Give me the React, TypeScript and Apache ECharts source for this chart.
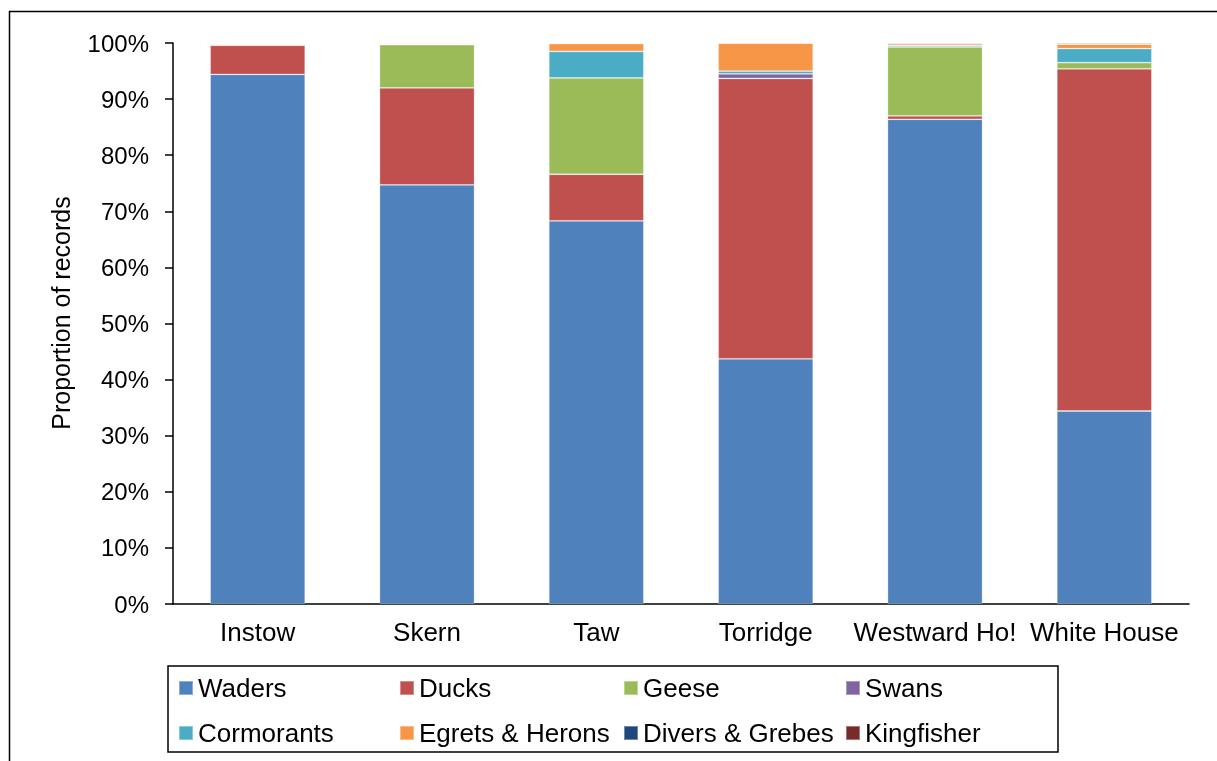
import React, { useEffect, useRef } from "react";
import * as echarts from "echarts";

const categories = ["Instow", "Skern", "Taw", "Torridge", "Westward Ho!", "White House"];
const seriesNames = ["Waders", "Ducks", "Geese", "Swans", "Cormorants", "Egrets & Herons", "Divers & Grebes", "Kingfisher"];
const waders = [94.4, 74.7, 68.3, 43.7, 86.4, 34.4];
const ducks = [5.2, 17.3, 8.3, 50.0, 0.6, 61.0];
const geese = [0.2, 7.7, 17.2, 0, 12.3, 1.1];
const swans = [0, 0, 0, 0.8, 0, 0];
const cormorants = [0.1, 0.1, 4.7, 0.5, 0.3, 2.5];
const egrets = [0.1, 0.2, 1.4, 5.0, 0.4, 0.8];
const divers = [0, 0, 0.1, 0, 0, 0];
const kingfisher = [0, 0, 0, 0, 0, 0.2];
const yTicks = [0, 10, 20, 30, 40, 50, 60, 70, 80, 90, 100];

const seriesData = [waders, ducks, geese, swans, cormorants, egrets, divers, kingfisher];
const colors = ["#4F81BD", "#C0504D", "#9BBB59", "#8064A2", "#4BACC6", "#F79646", "#1F497D", "#772C2A"];

const FONT = "Liberation Sans, Arial, sans-serif";

export default function App() {
  const ref = useRef<HTMLDivElement>(null);
  useEffect(() => {
    document.body.style.margin = "0";
    const chart = echarts.init(ref.current!, null, { renderer: "svg" });
    const legendX = [178, 399, 623, 845];
    const legendY = [675, 720];
    const legends = seriesNames.map((name, i) => ({
      data: [name],
      left: legendX[i % 4],
      top: legendY[Math.floor(i / 4)],
      padding: 0,
      itemWidth: 14,
      itemHeight: 14,
      icon: "rect",
      selectedMode: false,
      textStyle: { fontFamily: FONT, fontSize: 26, color: "#000" },
    }));
    chart.setOption({
      animation: false,
      color: colors,
      grid: { left: 173, right: 28, top: 43, bottom: 157 },
      legend: legends,
      xAxis: {
        type: "category",
        data: categories,
        axisLine: { lineStyle: { color: "#000", width: 1.5 } },
        axisTick: { length: 8, lineStyle: { color: "#000", width: 1.5 } },
        axisLabel: { fontFamily: FONT, fontSize: 26, color: "#000", margin: 15, interval: 0 },
      },
      yAxis: {
        type: "value",
        min: 0,
        max: 100,
        interval: 10,
        axisLine: { show: true, lineStyle: { color: "#000", width: 1.5 } },
        axisTick: { show: true, length: 8, lineStyle: { color: "#000", width: 1.5 } },
        splitLine: { show: false },
        axisLabel: {
          fontFamily: FONT,
          fontSize: 24,
          color: "#000",
          margin: 24,
          formatter: (v: number) => (yTicks.includes(v) ? v + "%" : ""),
        },
      },
      series: seriesNames.map((name, i) => ({
        name,
        type: "bar",
        stack: "total",
        barWidth: 95,
        data: seriesData[i],
        itemStyle: { color: colors[i], borderColor: "rgba(255,255,255,0.35)", borderWidth: 0.8 },
      })),
      graphic: [
        {
          type: "text",
          x: 61,
          y: 313,
          rotation: Math.PI / 2,
          style: {
            text: "Proportion of records",
            fontFamily: FONT,
            fontSize: 25,
            fill: "#000",
            align: "center",
            verticalAlign: "middle",
          },
        },
        {
          type: "rect",
          shape: { x: 168, y: 666, width: 890, height: 86 },
          style: { fill: "none", stroke: "#000", lineWidth: 1.5 },
          silent: true,
        },
        {
          type: "polyline",
          shape: { points: [[9.5, 761], [9.5, 11.5], [1217, 11.5]] },
          style: { fill: "none", stroke: "#000", lineWidth: 1.5 },
          silent: true,
        },
      ],
    });
    return () => chart.dispose();
  }, []);
  return <div ref={ref} style={{ position: "fixed", left: 0, top: 0, width: 1217, height: 761 }} />;
}
